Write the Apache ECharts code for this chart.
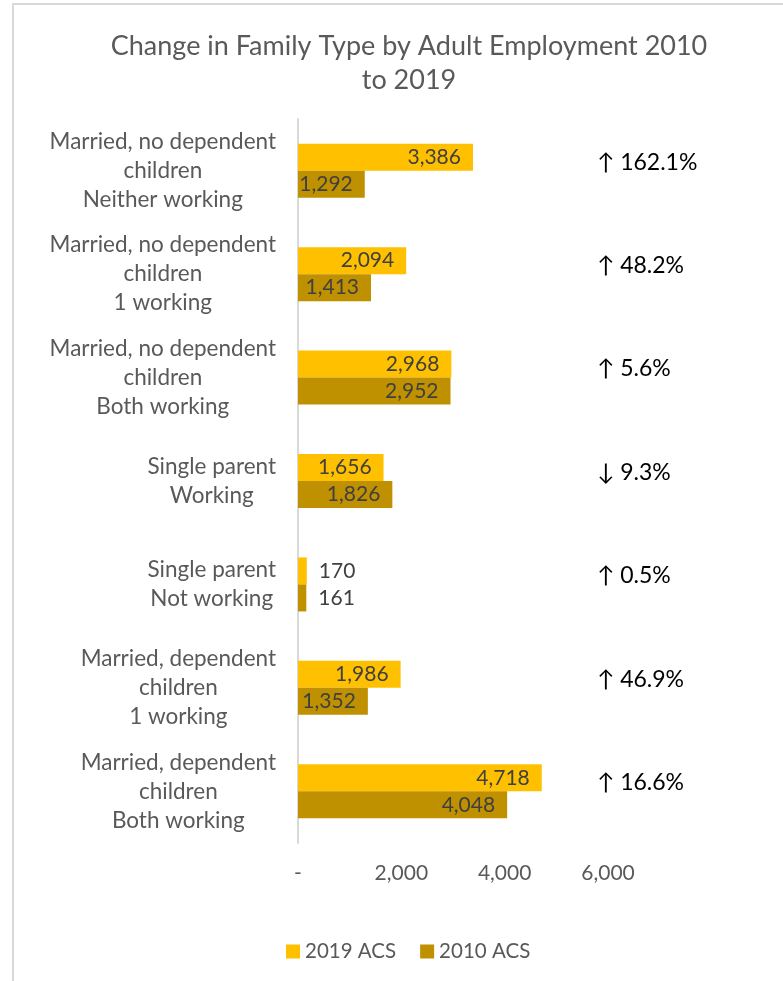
<!DOCTYPE html>
<html lang="en">
<head>
  <meta charset="UTF-8">
  <title>Change in Family Type by Adult Employment</title>
  <style>
    body { margin: 0; background: #fff; }
    #main { width: 783px; height: 981px; }
    .frame { position: absolute; left: 12px; top: 3px; width: 800px; height: 1000px;
             border-left: 2px solid #d9d9d9; border-top: 2px solid #d9d9d9; pointer-events: none; }
  </style>
  <script src="https://cdn.jsdelivr.net/npm/echarts@6/dist/echarts.min.js"></script>
</head>
<body>
<div class="frame"></div>
<div id="main"></div>
<script type="text/javascript">
// categories, top to bottom
var categories = [
  'Married, no dependent\nchildren\nNeither working',
  'Married, no dependent\nchildren\n1 working',
  'Married, no dependent\nchildren\nBoth working',
  'Single parent\nWorking',
  'Single parent\nNot working',
  'Married, dependent\nchildren\n1 working',
  'Married, dependent\nchildren\nBoth working'
];
var acs2019 = [3386, 2094, 2968, 1656, 170, 1986, 4718];
var acs2010 = [1292, 1413, 2952, 1826, 161, 1352, 4048];
// % change shown at the right (as printed on the chart)
var changePct = [162.1, 48.2, 5.6, -9.3, 0.5, 46.9, 16.6];
var xTicks = [0, 2000, 4000, 6000];

var FONT = 'Lato, sans-serif';
var GREY = '#595959';

function fmt(v) {
  return v === 0 ? '-' : v.toLocaleString('en-US');
}
var changeLabels = changePct.map(function (p) {
  return (p < 0 ? '\u2193 ' : '\u2191 ') + Math.abs(p).toFixed(1) + '%';
});

function barData(arr) {
  return arr.map(function (v) {
    return {
      value: v,
      label: { position: v < 500 ? 'right' : 'insideRight', distance: v < 500 ? 12 : 12 }
    };
  });
}

var myChart = echarts.init(document.getElementById('main'));
var option = {
  animation: false,
  textStyle: { fontFamily: FONT },
  title: {
    text: 'Change in Family Type by Adult Employment 2010\nto 2019',
    left: 404,
    textAlign: 'center',
    top: 24,
    textStyle: { fontFamily: FONT, fontSize: 27, fontWeight: 'normal', color: GREY, lineHeight: 34 }
  },
  legend: {
    left: 281,
    top: 936,
    itemWidth: 14,
    itemHeight: 14,
    itemGap: 24,
    icon: 'rect',
    textStyle: { fontFamily: FONT, fontSize: 20.5, color: GREY },
    data: ['2019 ACS', '2010 ACS']
  },
  grid: { left: 298, right: 175, top: 119, bottom: 138 },
  xAxis: {
    type: 'value',
    min: xTicks[0],
    max: xTicks[xTicks.length - 1],
    interval: 2000,
    axisLine: { show: false },
    axisTick: { show: false },
    splitLine: { show: false },
    axisLabel: { formatter: fmt, fontFamily: FONT, fontSize: 21, color: GREY, margin: 20 }
  },
  yAxis: [
    {
      type: 'category',
      inverse: true,
      data: categories,
      axisLine: { show: true, lineStyle: { color: '#d9d9d9', width: 2 } },
      axisTick: { show: false },
      axisLabel: {
        margin: 22,
        align: 'right',
        formatter: function (v) {
          return v.split('\n').map(function (l) { return '{c|' + l + '}'; }).join('\n');
        },
        rich: {
          c: { align: 'center', fontFamily: FONT, fontSize: 22.5, color: GREY, lineHeight: 29 }
        }
      }
    },
    {
      type: 'category',
      inverse: true,
      position: 'right',
      offset: -11,
      data: changeLabels,
      axisLine: { show: false },
      axisTick: { show: false },
      axisLabel: {
        margin: 0,
        align: 'left',
        verticalAlign: 'bottom',
        lineHeight: 17,
        fontFamily: FONT,
        fontSize: 23,
        color: '#000'
      }
    }
  ],
  series: [
    {
      name: '2019 ACS',
      type: 'bar',
      yAxisIndex: 0,
      barWidth: 27,
      barGap: '0%',
      itemStyle: { color: '#FFC000' },
      label: { show: true, color: '#404040', fontFamily: FONT, fontSize: 21, formatter: function (p) { return fmt(p.value); } },
      data: barData(acs2019)
    },
    {
      name: '2010 ACS',
      type: 'bar',
      yAxisIndex: 0,
      barWidth: 27,
      barGap: '0%',
      itemStyle: { color: '#BF9000' },
      label: { show: true, color: '#404040', fontFamily: FONT, fontSize: 21, formatter: function (p) { return fmt(p.value); } },
      data: barData(acs2010)
    }
  ]
};
myChart.setOption(option);
</script>
</body>
</html>
